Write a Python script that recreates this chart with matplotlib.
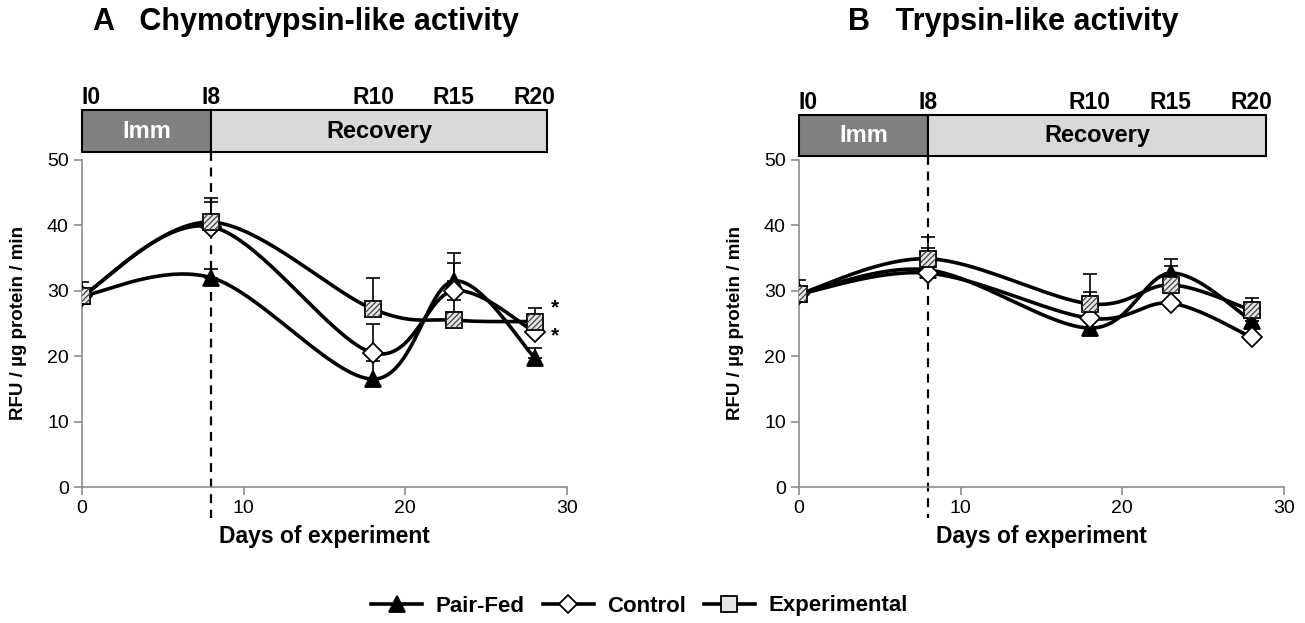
"""
Proteasome activity during immobilization and recovery
(chymotrypsin-like and trypsin-like), three groups.
"""
import numpy as np
import matplotlib.pyplot as plt
from matplotlib.lines import Line2D

plt.rcParams['font.family'] = ['Liberation Sans', 'DejaVu Sans']
plt.rcParams['hatch.linewidth'] = 0.9
plt.rcParams['hatch.color'] = '#444444'

# Data
days = [0, 8, 18, 23, 28]
phase_labels = ['I0', 'I8', 'R10', 'R15', 'R20']
groups = ['Pair-Fed', 'Control', 'Experimental']

chymo = {
    'Pair-Fed': [29.2, 32.0, 16.5, 31.5, 19.8],
    'Control': [29.2, 39.8, 20.5, 30.0, 23.7],
    'Experimental': [29.2, 40.5, 27.2, 25.5, 25.3],
}
chymo_err = {
    'Pair-Fed': [0.0, 1.3, 2.8, 4.3, 1.4],
    'Control': [0.0, 3.8, 4.4, 4.2, 0.0],
    'Experimental': [2.1, 3.7, 4.8, 3.1, 2.1],
}
trypsin = {
    'Pair-Fed': [29.5, 33.2, 24.3, 32.7, 25.4],
    'Control': [29.5, 32.7, 25.8, 28.1, 22.9],
    'Experimental': [29.5, 34.9, 28.0, 30.9, 27.0],
}
trypsin_err = {
    'Pair-Fed': [0.0, 0.0, 0.0, 2.2, 0.0],
    'Control': [0.0, 3.8, 4.0, 0.0, 0.0],
    'Experimental': [2.2, 3.3, 4.5, 2.9, 1.9],
}

STYLES = {
    'Pair-Fed': dict(marker='^', mfc='black', mec='black', ms=12),
    'Control': dict(marker='D', mfc='white', mec='black', ms=10),
    'Experimental': dict(marker='s', mfc='#e6e6e6', mec='black', ms=12),
}


def smooth_curve(xs, ys, n=40):
    """Excel-like smoothed line through points (Catmull-Rom bezier)."""
    pts = np.column_stack([xs, ys]).astype(float)
    ext = np.vstack([pts[0], pts, pts[-1]])
    out = []
    t = np.linspace(0, 1, n)[:, None]
    for i in range(1, len(ext) - 2):
        p0, p1, p2, p3 = ext[i - 1], ext[i], ext[i + 1], ext[i + 2]
        c1 = p1 + (p2 - p0) / 6.0
        c2 = p2 - (p3 - p1) / 6.0
        seg = ((1 - t) ** 3) * p1 + 3 * ((1 - t) ** 2) * t * c1 \
            + 3 * (1 - t) * t ** 2 * c2 + t ** 3 * p2
        out.append(seg)
    curve = np.vstack(out)
    return curve[:, 0], curve[:, 1]


def draw_panel(ax, data, err, bar_y, stars=None):
    for g in groups:
        sx, sy = smooth_curve(days, data[g])
        ax.plot(sx, sy, color='black', lw=2.6, zorder=2)
    for g in groups:
        ax.errorbar(days, data[g], yerr=[np.zeros(len(days)), err[g]],
                    fmt='none', ecolor='black', elinewidth=1.2, capsize=5,
                    capthick=1.2, zorder=3)
    for g in groups:
        st = STYLES[g]
        ax.plot(days, data[g], ls='none', marker=st['marker'], ms=st['ms'],
                mfc=st['mfc'], mec=st['mec'], mew=1.3, zorder=4)
        if g == 'Experimental':
            ax.scatter(days, data[g], marker='s', s=st['ms'] ** 2 * 0.85,
                       facecolor='none', edgecolor='#444444', hatch='//////',
                       lw=0, zorder=5)

    ax.set_xlim(0, 30)
    ax.set_ylim(0, 50)
    ax.set_xticks([0, 10, 20, 30])
    ax.set_yticks(range(0, 51, 10))
    ax.spines['top'].set_visible(False)
    ax.spines['right'].set_visible(False)
    for s in ('left', 'bottom'):
        ax.spines[s].set_color('#8c8c8c')
        ax.spines[s].set_linewidth(1.2)
    ax.tick_params(direction='out', length=6, width=1.2, color='#8c8c8c',
                   labelsize=14)
    ax.set_xlabel('Days of experiment', fontsize=16.5, fontweight='bold')
    ax.xaxis.set_label_coords(0.5, -0.115)
    ax.set_ylabel('RFU / µg protein / min', fontsize=13.5, fontweight='bold')
    ax.yaxis.set_label_coords(-0.113, 0.5)

    # phase bar
    y0, y1, x_end = bar_y
    ax.add_patch(plt.Rectangle((0, y0), 8, y1 - y0, facecolor='#808080',
                               edgecolor='black', lw=1.5, clip_on=False))
    ax.add_patch(plt.Rectangle((8, y0), x_end - 8, y1 - y0,
                               facecolor='#d9d9d9', edgecolor='black', lw=1.5,
                               clip_on=False))
    ym = (y0 + y1) / 2
    ax.text(4, ym, 'Imm', color='white', fontsize=17, fontweight='bold',
            ha='center', va='center')
    ax.text((8 + x_end) / 2, ym, 'Recovery', color='black', fontsize=17,
            fontweight='bold', ha='center', va='center')
    for d, lab in zip(days, phase_labels):
        ha = 'left' if d == 0 else 'center'
        ax.text(d, y1 + 0.2, lab, fontsize=16.5, fontweight='bold', ha=ha,
                va='bottom', clip_on=False)
    ax.plot([8, 8], [y0, -4.8], ls=(0, (4, 3)), color='black', lw=1.6,
            clip_on=False, zorder=1)

    if stars:
        for yy in stars:
            ax.text(29.0, yy, '*', fontsize=15, fontweight='bold',
                    ha='left', va='center')


fig = plt.figure(figsize=(13.05, 6.23), dpi=100)
ax1 = fig.add_axes([82 / 1305, 1 - 487 / 623, 485 / 1305, 327 / 623])
ax2 = fig.add_axes([799 / 1305, 1 - 487 / 623, 485 / 1305, 327 / 623])

draw_panel(ax1, chymo, chymo_err, (51.2, 57.6, 28.75), stars=[27.4, 23.1])
draw_panel(ax2, trypsin, trypsin_err, (50.6, 56.9, 28.9))

fig.text(93 / 1305, 1 - 22 / 623, 'A   Chymotrypsin-like activity',
         fontsize=22, fontweight='bold', ha='left', va='center')
fig.text(848 / 1305, 1 - 22 / 623, 'B   Trypsin-like activity',
         fontsize=22, fontweight='bold', ha='left', va='center')

handles = []
for g in groups:
    st = STYLES[g]
    handles.append(Line2D([], [], color='black', lw=2.6, marker=st['marker'],
                          ms=st['ms'] * 0.95, mfc=st['mfc'], mec=st['mec'],
                          mew=1.3))
fig.legend(handles, groups, loc='center', bbox_to_anchor=(0.49, 1 - 606 / 623),
           ncol=3, frameon=False, handlelength=2.3, columnspacing=0.8,
           handletextpad=0.6,
           prop={'family': 'Liberation Sans', 'weight': 'bold', 'size': 16})

fig.savefig('out.png', dpi=100)
